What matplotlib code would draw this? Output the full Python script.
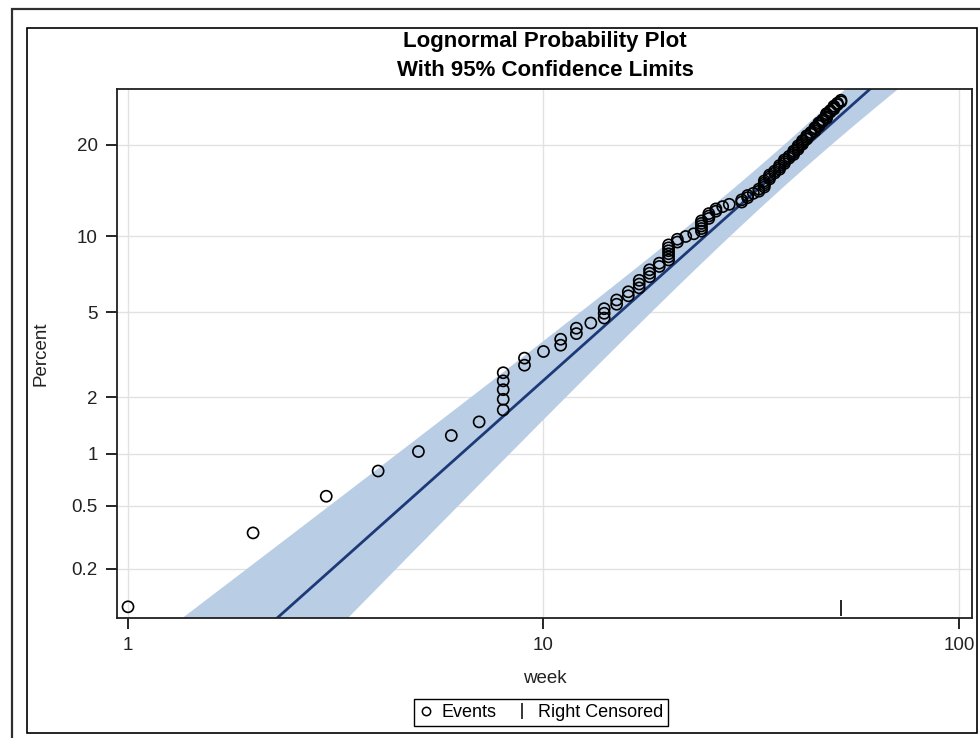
import numpy as np
import matplotlib
matplotlib.use("Agg")
import matplotlib.pyplot as plt
from matplotlib.lines import Line2D
from matplotlib.patches import Rectangle
from matplotlib.transforms import blended_transform_factory
from statistics import NormalDist

plt.rcParams['font.family'] = ['Liberation Sans', 'DejaVu Sans']

# event times (weeks) and plotting position (percent)
weeks = [1, 2, 3, 4, 5, 6, 7,
         8, 8, 8, 8, 8, 9, 9, 10, 11, 11, 12, 12, 13,
         14, 14, 14, 15, 15, 16, 16, 17, 17, 17, 18, 18, 18, 19, 19,
         20, 20, 20, 20, 20, 20, 21, 21, 22, 23,
         24, 24, 24, 24, 24, 25, 25, 25, 26, 26, 27, 28, 30, 30, 31, 31, 32,
         33, 33, 34, 34, 34, 34, 35, 35, 35, 36, 36, 37, 37, 37, 38, 38, 38,
         39, 39, 40, 40, 40, 41, 41, 41, 42, 42, 42, 43, 43, 43, 44, 44,
         45, 45, 45, 46, 46, 46, 47, 47, 48, 48, 48, 48, 49, 49,
         50, 50, 50, 51, 51, 52, 52]
pct = [0.11, 0.34, 0.57, 0.80, 1.03, 1.26, 1.49,
       1.72, 1.95, 2.18, 2.41, 2.64, 2.87, 3.10, 3.33, 3.56, 3.79, 4.02, 4.25, 4.48,
       4.71, 4.94, 5.17, 5.40, 5.63, 5.86, 6.09, 6.32, 6.55, 6.78, 7.01, 7.24, 7.47, 7.70, 7.93,
       8.16, 8.39, 8.62, 8.85, 9.08, 9.31, 9.54, 9.77, 10.00, 10.23,
       10.46, 10.69, 10.92, 11.15, 11.38, 11.61, 11.84, 12.07, 12.30, 12.53, 12.76, 12.99,
       13.22, 13.45, 13.68, 13.91, 14.14,
       14.37, 14.60, 14.83, 15.06, 15.29, 15.52, 15.75, 15.98, 16.21, 16.44, 16.67,
       16.90, 17.13, 17.36, 17.59, 17.82, 18.05,
       18.28, 18.51, 18.74, 18.97, 19.20, 19.43, 19.66, 19.89, 20.11, 20.34, 20.57,
       20.80, 21.03, 21.26, 21.49, 21.72,
       21.95, 22.18, 22.41, 22.64, 22.87, 23.10, 23.33, 23.56, 23.79, 24.02, 24.25, 24.48,
       24.71, 24.94, 25.17, 25.40, 25.63, 25.86, 26.09, 26.32, 26.55]
censor_week = 52

# fitted lognormal (log scale) and band half-width in probit units
mu, sigma = 4.852, 1.292
band_w0, band_k, band_uc = 0.10, 0.268, 1.6

y_ticks = [0.2, 0.5, 1, 2, 5, 10, 20]
x_ticks = [1, 10, 100]

nd = NormalDist()
_ppf = np.vectorize(nd.inv_cdf, otypes=[float])
_cdf = np.vectorize(nd.cdf, otypes=[float])


def fwd(p):
    p = np.clip(np.asarray(p, dtype=float) / 100.0, 1e-12, 1 - 1e-12)
    return _ppf(p)


def inv(z):
    return 100.0 * _cdf(np.asarray(z, dtype=float))


fig = plt.figure(figsize=(9.8, 7.38), dpi=100)
W, H = 980, 738

# frames around the graph
fig.add_artist(Rectangle((12 / W, -0.05), 1.1, 1 - 9 / H + 0.05, transform=fig.transFigure,
                         fill=False, edgecolor='#303030', linewidth=1.6))
fig.add_artist(Rectangle((27 / W, 1 - 733 / H), (977 - 27) / W, (733 - 28) / H,
                         transform=fig.transFigure, fill=False, edgecolor='black', linewidth=1.2))

ax = fig.add_axes([117 / W, 1 - 618 / H, (972 - 117) / W, (618 - 89) / H])
ax.set_xscale('log')
ax.set_yscale('function', functions=(fwd, inv))

t = np.logspace(np.log10(0.9), np.log10(110), 400)
u = np.log10(t)
z_fit = (np.log(t) - mu) / sigma
w = np.sqrt(band_w0 ** 2 + (band_k * (u - band_uc)) ** 2)
ax.fill_between(t, inv(z_fit - w), inv(z_fit + w), color='#B9CDE5', lw=0, zorder=1)
ax.plot(t, inv(z_fit), color='#1C3A78', lw=2, zorder=2)

ax.scatter(weeks, pct, s=64, facecolors='none', edgecolors='black', linewidths=1.2, zorder=3)

trans = blended_transform_factory(ax.transData, ax.transAxes)
ax.plot([censor_week], [0.019], marker='|', ms=12, mew=1.2, color='black',
        transform=trans, clip_on=False, ls='none', zorder=4)

ax.set_xlim(0.9408, 107.5)
ax.set_ylim(0.0918, 28.35)
ax.set_xticks(x_ticks)
ax.set_xticklabels([str(v) for v in x_ticks])
ax.xaxis.set_minor_locator(matplotlib.ticker.NullLocator())
ax.set_yticks(y_ticks)
ax.set_yticklabels(['0.2', '0.5', '1', '2', '5', '10', '20'])
ax.yaxis.set_minor_locator(matplotlib.ticker.NullLocator())
ax.tick_params(axis='both', direction='out', length=8, width=1.2, labelsize=13.5,
               colors='black', pad=6)
ax.tick_params(axis='both', labelcolor='#222222')
ax.grid(True, color='#E2E2E2', lw=1)
ax.set_axisbelow(True)
for s in ax.spines.values():
    s.set_linewidth(1.3)
    s.set_color('#202020')

ax.set_xlabel('week', fontsize=13.5, labelpad=11, color='#222222')
ax.set_ylabel('Percent', fontsize=13.5, labelpad=16, color='#222222')

fig.text(545 / W, 1 - 42 / H, 'Lognormal Probability Plot', ha='center', va='center',
         fontsize=16, fontweight='bold')
fig.text(545 / W, 1 - 70 / H, 'With 95% Confidence Limits', ha='center', va='center',
         fontsize=16, fontweight='bold')

handles = [Line2D([], [], marker='o', ls='none', mfc='white', mec='black', ms=6, mew=1.1),
           Line2D([], [], marker='|', ls='none', color='black', ms=12, mew=1.1)]
fig.legend(handles, ['Events', 'Right Censored'], loc='center',
           bbox_to_anchor=(541 / W, 1 - 712.5 / H), ncol=2, frameon=True, fancybox=False,
           edgecolor='black', fontsize=13, handlelength=0.8, handletextpad=0.5,
           columnspacing=1.0, borderpad=0.25, framealpha=1)

fig.savefig('out.png', dpi=100)
